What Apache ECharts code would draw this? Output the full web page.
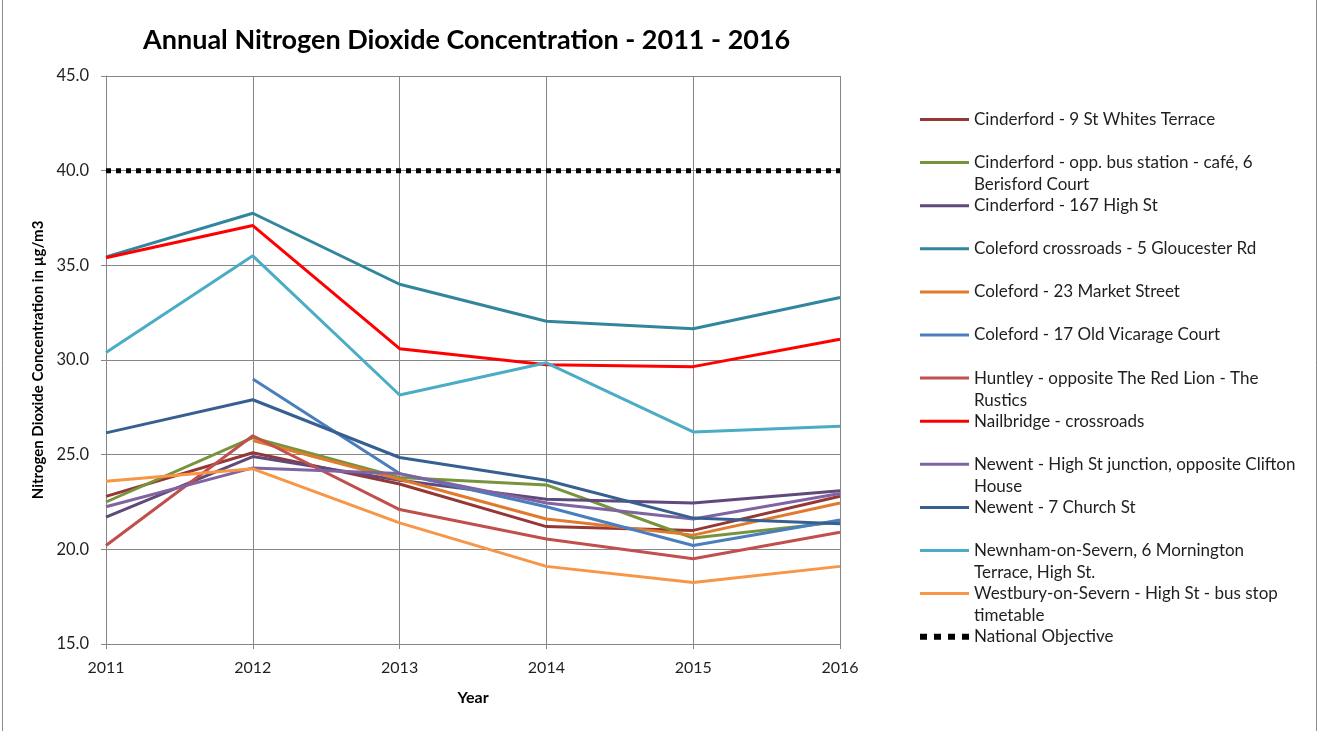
<!DOCTYPE html>
<html>
<head>
<meta charset="utf-8">
<script src="https://cdn.jsdelivr.net/npm/echarts@6/dist/echarts.min.js"></script>
<style>
  html, body { margin: 0; padding: 0; background: #fff; }
  #chart { width: 1319px; height: 731px; }
</style>
</head>
<body>
<div id="chart"></div>
<script>
// ---------------- DATA ----------------
const years = ['2011', '2012', '2013', '2014', '2015', '2016'];

const seriesNames = [
  'Cinderford - 9 St Whites Terrace',
  'Cinderford - opp. bus station - café, 6 Berisford Court',
  'Cinderford - 167 High St',
  'Coleford crossroads - 5 Gloucester Rd',
  'Coleford - 23 Market Street',
  'Coleford - 17 Old Vicarage Court',
  'Huntley - opposite The Red Lion - The Rustics',
  'Nailbridge - crossroads',
  'Newent - High St junction, opposite Clifton House',
  'Newent - 7 Church St',
  'Newnham-on-Severn, 6 Mornington Terrace, High St.',
  'Westbury-on-Severn - High St - bus stop timetable',
  'National Objective'
];

// legend text as wrapped in the reference
const legendLabels = [
  'Cinderford - 9 St Whites Terrace',
  'Cinderford - opp. bus station - café, 6\nBerisford Court',
  'Cinderford - 167 High St',
  'Coleford crossroads - 5 Gloucester Rd',
  'Coleford - 23 Market Street',
  'Coleford - 17 Old Vicarage Court',
  'Huntley - opposite The Red Lion - The\nRustics',
  'Nailbridge - crossroads',
  'Newent - High St junction, opposite Clifton\nHouse',
  'Newent - 7 Church St',
  'Newnham-on-Severn, 6 Mornington\nTerrace, High St.',
  'Westbury-on-Severn - High St - bus stop\ntimetable',
  'National Objective'
];

const cinderford9     = [22.8, 25.1, 23.45, 21.2, 21.0, 22.8];
const cinderfordBus   = [22.5, 25.9, 23.8, 23.4, 20.6, 21.45];
const cinderford167   = [21.7, 24.9, 23.65, 22.65, 22.45, 23.1];
const colefordCross   = [35.45, 37.75, 34.0, 32.05, 31.65, 33.3];
const coleford23      = [null, 25.75, 23.7, 21.6, 20.75, 22.45];
const coleford17      = [null, 29.0, 24.0, 22.25, 20.2, 21.55];
const huntley         = [20.2, 26.0, 22.1, 20.55, 19.5, 20.9];
const nailbridge      = [35.4, 37.1, 30.6, 29.75, 29.65, 31.1];
const newentHigh      = [22.25, 24.3, 24.0, 22.45, 21.6, 22.95];
const newent7         = [26.15, 27.9, 24.85, 23.65, 21.65, 21.35];
const newnham         = [30.4, 35.5, 28.15, 29.85, 26.2, 26.5];
const westbury        = [23.6, 24.25, 21.4, 19.1, 18.25, 19.1];
const nationalObj     = [40, 40, 40, 40, 40, 40];

const seriesValues = [cinderford9, cinderfordBus, cinderford167, colefordCross, coleford23,
  coleford17, huntley, nailbridge, newentHigh, newent7, newnham, westbury, nationalObj];

const seriesColors = ['#953735', '#77933C', '#604A7B', '#31859C', '#E07B2E', '#4A7EBD',
  '#C0504D', '#FF0000', '#8064A2', '#376092', '#4BACC6', '#F79646', '#000000'];

// ---------------- CHART ----------------
const FONT = 'Lato, "Open Sans", sans-serif';
const TXT = '#1f1f1f';

const series = seriesNames.map((name, i) => {
  const isObj = i === seriesNames.length - 1;
  return {
    name: name,
    type: 'line',
    data: seriesValues[i],
    symbol: 'none',
    connectNulls: false,
    animation: false,
    color: seriesColors[i],
    lineStyle: isObj
      ? { color: '#000', width: 5, type: [5, 5], cap: 'butt' }
      : { color: seriesColors[i], width: 3 },
    z: isObj ? 3 : 2
  };
});

const legendFirstY = 119.5;
const legendStep = 43.1;
const legends = seriesNames.map((name, i) => {
  const wrapped = legendLabels[i].indexOf('\n') >= 0;
  const isObj = i === seriesNames.length - 1;
  const iconCenter = legendFirstY + i * legendStep;
  return {
    orient: 'vertical',
    left: 920,
    top: iconCenter - (wrapped ? 33 : 11),
    padding: 0,
    itemWidth: 49,
    itemHeight: isObj ? 6 : 3,
    selectedMode: false,
    data: [{
      name: name,
      icon: isObj ? 'path://M0,0h7v6h-7z M14,0h7v6h-7z M28,0h7v6h-7z M42,0h7v6h-7z' : 'rect'
    }],
    formatter: function () { return (wrapped ? '\n' : '') + legendLabels[i]; },
    textStyle: { fontFamily: FONT, fontSize: 17, color: TXT, lineHeight: 22 }
  };
});

const chart = echarts.init(document.getElementById('chart'), null, { renderer: 'canvas' });
chart.setOption({
  backgroundColor: '#ffffff',
  animation: false,
  title: {
    text: 'Annual Nitrogen Dioxide Concentration - 2011 - 2016',
    left: 143,
    top: 27,
    padding: 0,
    textStyle: { fontFamily: FONT, fontSize: 27, fontWeight: 'bold', color: '#000' }
  },
  legend: legends,
  grid: { left: 106, right: 479, top: 76, bottom: 87, containLabel: false },
  xAxis: {
    type: 'category',
    data: years,
    boundaryGap: false,
    name: 'Year',
    nameLocation: 'middle',
    nameGap: 46,
    nameTextStyle: { fontFamily: FONT, fontSize: 16, fontWeight: 'bold', color: '#000' },
    axisLine: { show: true, lineStyle: { color: '#868686', width: 1 } },
    axisTick: { show: true, length: 5, inside: false, lineStyle: { color: '#868686' } },
    axisLabel: { fontFamily: FONT, fontSize: 16, color: TXT, margin: 16 },
    splitLine: { show: true, lineStyle: { color: '#868686', width: 1 } }
  },
  yAxis: {
    type: 'value',
    min: 15,
    max: 45,
    interval: 5,
    name: 'Nitrogen Dioxide Concentration in µg/m3',
    nameLocation: 'middle',
    nameGap: 57,
    nameTextStyle: { fontFamily: FONT, fontSize: 15, fontWeight: 'bold', color: '#000' },
    axisLine: { show: true, lineStyle: { color: '#868686', width: 1 } },
    axisTick: { show: true, length: 5, inside: false, lineStyle: { color: '#868686' } },
    axisLabel: { fontFamily: FONT, fontSize: 16.5, color: TXT, margin: 17,
      formatter: v => v.toFixed(1) },
    splitLine: { show: true, lineStyle: { color: '#868686', width: 1 } }
  },
  graphic: [{
    type: 'rect',
    shape: { x: 2.5, y: -10, width: 1314, height: 760 },
    style: { fill: 'none', stroke: '#8c8c8c', lineWidth: 1 },
    silent: true
  }],
  series: series
});
</script>
</body>
</html>
